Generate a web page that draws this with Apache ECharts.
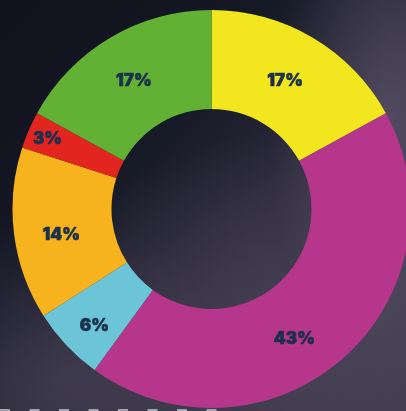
<!DOCTYPE html>
<html>
<head>
<meta charset="utf-8">
<script src="https://cdn.jsdelivr.net/npm/echarts@6/dist/echarts.min.js"></script>
<style>
html,body{margin:0;padding:0;width:406px;height:411px;overflow:hidden;}
body{
  background:
    radial-gradient(ellipse 120px 260px at 390px 120px, rgba(110,100,125,0.55), rgba(110,100,125,0) 100%),
    radial-gradient(ellipse 260px 200px at 300px 330px, rgba(85,78,98,0.6), rgba(85,78,98,0) 100%),
    radial-gradient(ellipse 180px 160px at 60px 380px, rgba(75,70,90,0.6), rgba(75,70,90,0) 100%),
    linear-gradient(135deg, #0f111b 0%, #161926 35%, #2e2b3c 60%, #3e3a4c 100%);
}
#chart{width:406px;height:411px;}
</style>
</head>
<body>
<div id="chart"></div>
<script>
const categories = ['Yellow', 'Magenta', 'Cyan', 'Orange', 'Red', 'Green'];
const values = [17, 43, 6, 14, 3, 17];
const colors = ['#f2e61e', '#b5368a', '#6cc5d7', '#f6b31d', '#e2261f', '#62b135'];
const labelOffsets = [[-4, 3], [-18, 15], [-6, 12], [1, 7], [-24, -10], [0, 3]];

const chart = echarts.init(document.getElementById('chart'), null, {renderer: 'canvas'});
const dashes = [];
for (let i = 0; i < 8; i++) {
  dashes.push({
    type: 'rect',
    shape: {x: i * 29.5, y: 409, width: 10, height: 2},
    style: {fill: 'rgba(200,200,210,0.75)'},
    silent: true
  });
}
chart.setOption({
  backgroundColor: 'transparent',
  animation: false,
  graphic: dashes,
  series: [{
    type: 'pie',
    center: [211.5, 209],
    radius: [100, 199],
    startAngle: 90,
    clockwise: true,
    avoidLabelOverlap: false,
    itemStyle: {borderWidth: 0},
    label: {
      show: true,
      position: 'inside',
      formatter: '{c}%',
      color: '#1b304c',
      fontFamily: 'Inter',
      fontStyle: 'normal',
      fontWeight: 900,
      fontSize: 17,
      textBorderColor: '#1b304c',
      textBorderWidth: 0.6
    },
    labelLine: {show: false},
    emphasis: {disabled: true},
    data: categories.map((name, i) => ({
      name: name,
      value: values[i],
      itemStyle: {color: colors[i]},
      label: {offset: labelOffsets[i]}
    }))
  }]
});
</script>
</body>
</html>
